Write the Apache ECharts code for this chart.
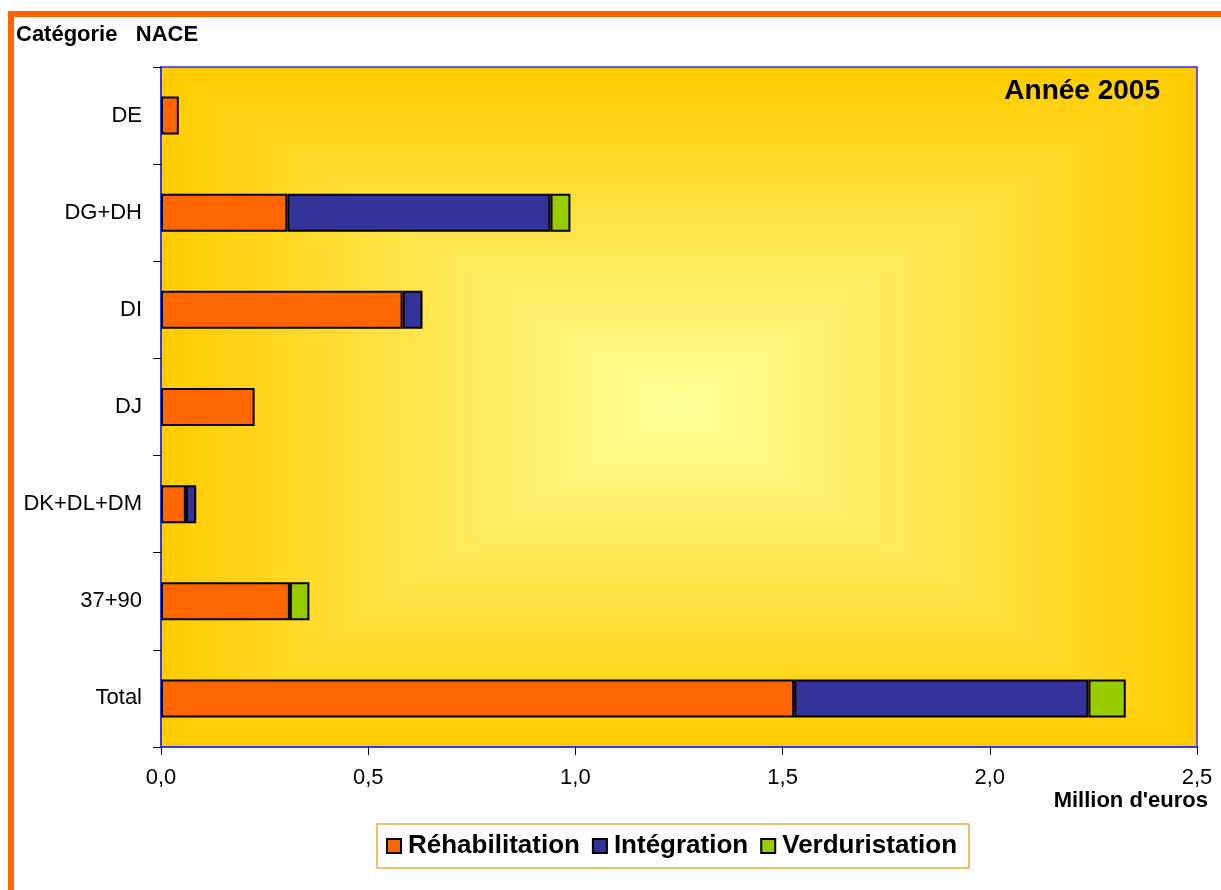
<!DOCTYPE html>
<html>
<head>
<meta charset="utf-8">
<script src="https://cdn.jsdelivr.net/npm/echarts@6/dist/echarts.min.js"></script>
<style>
  html, body { margin: 0; padding: 0; background: #ffffff; }
  #chart { width: 1221px; height: 890px; }
</style>
</head>
<body>
<div id="chart"></div>
<script>
// NACE categories (top to bottom)
const categories = ['DE', 'DG+DH', 'DI', 'DJ', 'DK+DL+DM', '37+90', 'Total'];

// Amounts per category, in million euros (null = no amount)
const rehabilitation = [0.043, 0.305, 0.583, 0.226, 0.060, 0.311, 1.528];
const integration    = [null,  0.635, 0.048, null,  0.025, null,  0.710];
const verduristation = [null,  0.048, null,  null,  null,  0.047, 0.090];

const seriesNames = ['Réhabilitation', 'Intégration', 'Verduristation'];
const xTickLabels = ['0,0', '0,5', '1,0', '1,5', '2,0', '2,5'];

const FONT = '"Liberation Sans", Arial, sans-serif';

// plot area
const G = { left: 161, top: 67, width: 1036, height: 680 };

// rectangular ("path") gradient background: nested rectangles from edge colour to centre colour
function lerp(a, b, t) { return Math.round(a + (b - a) * t); }
const edge = [255, 204, 0];
const centre = [255, 255, 153];
const steps = 70;
const background = [];
for (let i = 0; i < steps; i++) {
  const t = i / (steps - 1);
  const dx = (G.width / 2) * i / steps;
  const dy = (G.height / 2) * i / steps;
  background.push({
    type: 'rect',
    silent: true,
    z: -10,
    shape: { x: G.left + dx, y: G.top + dy, width: G.width - 2 * dx, height: G.height - 2 * dy },
    style: { fill: 'rgb(' + lerp(edge[0], centre[0], t) + ',' + lerp(edge[1], centre[1], t) + ',' + lerp(edge[2], centre[2], t) + ')' }
  });
}

const chart = echarts.init(document.getElementById('chart'));

const barStyle = (color) => ({ color: color, borderColor: '#000000', borderWidth: 2 });

chart.setOption({
  backgroundColor: '#ffffff',
  animation: false,
  grid: {
    left: G.left, top: G.top, width: G.width, height: G.height,
    show: true, borderColor: '#2a2aff', borderWidth: 1.5, backgroundColor: 'transparent'
  },
  graphic: background.concat([
    // page frame
    { type: 'rect', silent: true, z: 5,
      shape: { x: 11, y: 14, width: 1400, height: 1000 },
      style: { fill: 'none', stroke: '#FF6600', lineWidth: 6 } },
    { type: 'text', left: 16, top: 24, z: 5,
      style: { text: 'Catégorie   NACE', font: 'bold 22px ' + FONT, fill: '#000' } },
    { type: 'text', z: 5, x: 1160, y: 91,
      style: { text: 'Année 2005', font: 'bold 28px ' + FONT, fill: '#000', textAlign: 'right', textVerticalAlign: 'middle' } },
    { type: 'text', z: 5, x: 1208, y: 801,
      style: { text: "Million d'euros", font: 'bold 22px ' + FONT, fill: '#000', textAlign: 'right', textVerticalAlign: 'middle' } }
  ]),
  legend: {
    data: seriesNames,
    left: 377, top: 824,
    padding: [9, 12, 9, 9],
    itemGap: 12,
    itemWidth: 14, itemHeight: 14,
    icon: 'rect',
    borderColor: '#F5A540', borderWidth: 1.5,
    backgroundColor: '#ffffff',
    textStyle: { fontFamily: FONT, fontWeight: 'bold', fontSize: 26, color: '#000', padding: [0, 0, 0, 2] }
  },
  xAxis: {
    type: 'value',
    min: 0, max: 2.5, interval: 0.5,
    axisLine: { show: true, lineStyle: { color: '#2a2aff', width: 1.5 } },
    axisTick: { show: true, length: 8, lineStyle: { color: '#000', width: 1 } },
    splitLine: { show: false },
    axisLabel: {
      margin: 20, fontFamily: FONT, fontSize: 22, color: '#000',
      formatter: (v) => xTickLabels[Math.round(v / 0.5)]
    }
  },
  yAxis: {
    type: 'category',
    data: categories,
    inverse: true,
    axisLine: { show: true, lineStyle: { color: '#2a2aff', width: 1.5 } },
    axisTick: { show: true, length: 8, lineStyle: { color: '#000', width: 1 } },
    axisLabel: { margin: 19, fontFamily: FONT, fontSize: 22, color: '#000' }
  },
  series: [
    { name: seriesNames[0], type: 'bar', stack: 'total', barWidth: 38, data: rehabilitation, itemStyle: barStyle('#FF6600') },
    { name: seriesNames[1], type: 'bar', stack: 'total', barWidth: 38, data: integration, itemStyle: barStyle('#333399') },
    { name: seriesNames[2], type: 'bar', stack: 'total', barWidth: 38, data: verduristation, itemStyle: barStyle('#99CC00') }
  ]
});
</script>
</body>
</html>
